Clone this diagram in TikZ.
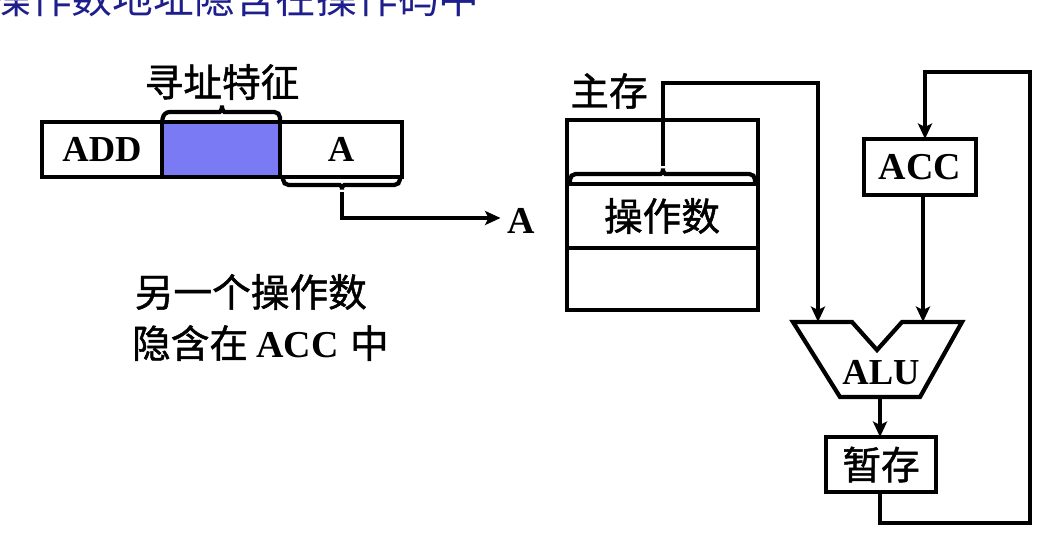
\documentclass[tikz,border=0pt]{standalone}
\usepackage{fontspec}
\setmainfont{Liberation Serif}
\newfontfamily\cjk[FakeBold=1.2]{Noto Sans CJK SC}
\newfontfamily\cjktitle{Noto Sans CJK SC}
\usetikzlibrary{arrows.meta,calc}
\definecolor{cellblue}{RGB}{122,122,245}
\definecolor{titleblue}{RGB}{30,30,140}
\newcommand\myfs[1]{\fontsize{#1}{#1}\selectfont}
\begin{document}
\begin{tikzpicture}[x=0.025cm,y=-0.025cm,line width=3pt,
  cell/.style={draw,inner sep=0pt,outer sep=0pt,minimum height=1.375cm},
  lat/.style={font=\bfseries\myfs{26pt}},
  zh/.style={font=\cjk\myfs{27.5pt}},
  arr/.style={-{Stealth[length=11pt,width=10pt,inset=2.5pt]}},
  brace/.style={rounded corners=4pt}]
\useasboundingbox (0,0) rectangle (1062,556);
\clip (0,0) rectangle (1062,556);
\fill[white] (0,0) rectangle (1062,556);

% cropped title
\node[text=titleblue,font=\cjktitle\myfs{29pt}] (title) at (235,-2) {操作数地址隐含在操作码中};

% instruction
\node[cell,minimum width=3cm,lat] (add) at (102,149.5) {ADD};
\node[cell,minimum width=2.95cm,fill=cellblue] (mode) at (221,149.5) {};
\node[cell,minimum width=3.05cm,lat] (addr) at (341,149.5) {A};
\draw[brace] (mode.north west) -- (164,112) -- (214,112) .. controls (220,112) and (222,110) .. (222,102)
  .. controls (222,110) and (224,112) .. (230,112) -- (280,112) -- (mode.north east);
\node[zh] (feat) at (222,82) {寻址特征};
\draw[brace] (283,177) -- (283,185) -- (334,185) .. controls (340,185) and (342,187) .. (342,193)
  .. controls (342,187) and (344,185) .. (350,185) -- (400,185) -- (400,177);
\coordinate (atap) at (342,192);
\node[lat,font=\bfseries\myfs{27pt}] (alab) at (521,221) {A};
\draw[arr] (atap) -- (342,218) -- (alab.west |- 0,218);

\node[zh,anchor=west] (l1) at (128,292) {另一个操作数};
\node[anchor=west,inner sep=0pt] (l2) at (130,343) {{\cjk\myfs{27.5pt}隐含在}\hspace{6pt}{\bfseries\myfs{27pt}ACC}\hspace{8pt}{\cjk\myfs{27.5pt}中}};

% memory
\node[zh] (mainmem) at (609,91) {主存};
\node[draw,inner sep=0pt,outer sep=0pt,minimum width=4.775cm,minimum height=4.75cm] (mem) at (662.5,215) {};
\draw (mem.west |- 0,184) -- (mem.east |- 0,184);
\draw (mem.west |- 0,248) -- (mem.east |- 0,248);
\node[zh] (opnd) at (662,216) {操作数};
\draw[brace] (570,184) -- (570,174) -- (655,174) .. controls (661,174) and (663,172) .. (663,165)
  .. controls (663,172) and (665,174) .. (671,174) -- (755,174) -- (755,184);
\coordinate (mtap) at (663,166);

% ALU
\coordinate (aluinL) at (818,322);
\coordinate (aluinR) at (923,322);
\coordinate (alubot) at (880,397);
\draw[line join=miter] (793,322) -- (852,322) -- (877,350) -- (902,322) -- (962,322) -- (920,397) -- (840,397) -- cycle;
\node[lat] (alu) at (881,373) {ALU};

\node[cell,minimum width=2.8cm,minimum height=1.4cm,lat,font=\bfseries\myfs{27pt}] (acc) at (920,167) {ACC};
\node[cell,minimum width=2.75cm,zh] (tmp) at (881,464.5) {暂存};

\draw[arr] (mtap) -- (663,83) -- (818,83) -- (aluinL);
\draw[arr] (acc.south -| aluinR) -- (aluinR);
\draw[arr] (alubot) -- (tmp.north -| alubot);
\draw[arr] (tmp.south -| alubot) -- (880,523) -- (1030,523) -- (1030,72) -- (925,72) -- (acc.north -| 925,0);
\end{tikzpicture}
\end{document}
